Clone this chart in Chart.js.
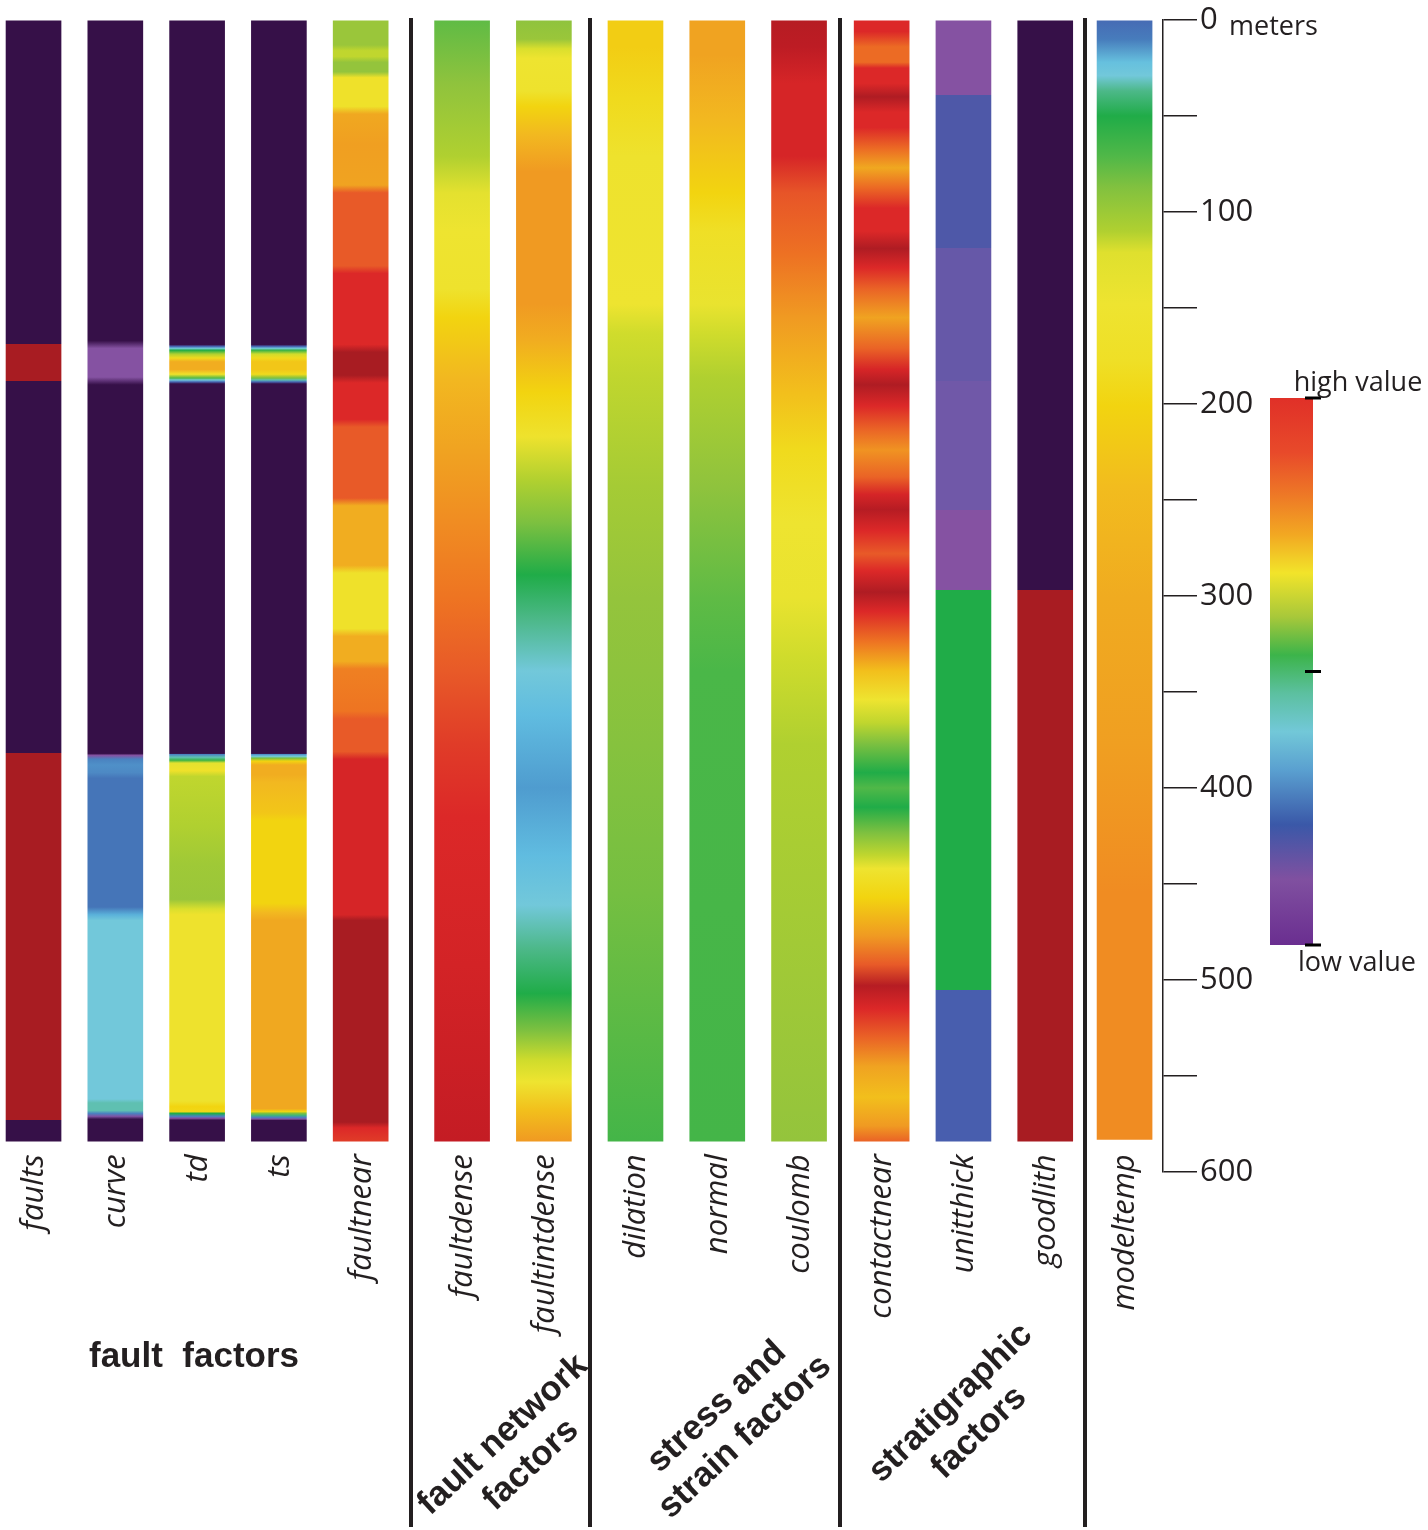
<!DOCTYPE html>
<html><head><meta charset="utf-8">
<script src="https://cdn.jsdelivr.net/npm/chart.js@4.4.1/dist/chart.umd.min.js"></script>
<style>html,body{margin:0;padding:0;background:#fff}canvas{display:block}</style>
</head><body>
<canvas id="c" width="1428" height="1530"></canvas>
<script>
// ---------------- DATA ----------------
const columnNames = ['faults','curve','td','ts','faultnear','faultdense','faultintdense','dilation','normal','coulomb','contactnear','unitthick','goodlith','modeltemp'];
const columnGroup = [0,0,0,0,0,1,1,2,2,2,3,3,3,4];
const groupTitles = [['fault  factors'],['fault network','factors'],['stress and','strain factors'],['stratigraphic','factors'],[]];
const depthTickLabels = [0,100,200,300,400,500,600];
const depthUnit = 'meters';
const legendLabels = ['high value','low value'];

// each column: [depth (m), normalised value 0 = low ... 1 = high]
const faults = [[0,0],[169,0],[169,1],[188,1],[188,0],[382,0],[382,1],[573,1],[573,0],[584,0]];
const curve = [[0,0],[167,0],[171,0.1],[186,0.1],[190,0],[382,0],[383,0.1],[385,0.3],[388,0.32],[392,0.31],[395,0.28],[462,0.28],[466,0.36],[469,0.4],[562,0.4],[564,0.42],[568,0.42],[569.5,0.3],[571,0.12],[572.5,0],[584,0]];
const td = [[0,0],[169,0],[170,0.25],[171,0.4],[172,0.48],[174,0.6],[176,0.68],[178,0.76],[182,0.76],[184.5,0.66],[186.5,0.52],[187.5,0.4],[188.5,0.25],[189.5,0],[382,0],[382.5,0.3],[384,0.42],[385.5,0.5],[387,0.64],[391,0.66],[394,0.61],[420,0.6],[440,0.585],[458,0.58],[463,0.63],[466,0.655],[563,0.655],[566,0.7],[568.5,0.69],[569.5,0.48],[571,0.3],[572,0.1],[573,0],[584,0]];
const ts = [[0,0],[169,0],[170,0.25],[171,0.4],[172,0.5],[174,0.62],[176,0.68],[178,0.72],[182,0.72],[184.5,0.68],[186.5,0.55],[187.5,0.42],[188.5,0.25],[189.5,0],[382,0],[382.5,0.32],[383.5,0.4],[384.5,0.55],[386,0.7],[388,0.76],[393,0.76],[397,0.74],[413,0.72],[417,0.7],[460,0.7],[465,0.74],[469,0.77],[567,0.77],[568.5,0.7],[569.5,0.55],[570.5,0.45],[571.5,0.3],[572.5,0.1],[573,0],[584,0]];
const faultnear = [[0,0.58],[13,0.58],[16,0.61],[19,0.61],[22,0.575],[27,0.575],[30,0.66],[45,0.66],[49,0.77],[65,0.79],[86,0.78],[90,0.87],[128,0.87],[132,0.92],[169,0.92],[173,1],[185,1],[189,0.92],[208,0.92],[212,0.87],[249,0.87],[253,0.76],[284,0.76],[288,0.66],[317,0.66],[321,0.76],[334,0.76],[338,0.83],[360,0.84],[364,0.87],[381,0.87],[385,0.93],[466,0.93],[469,1],[574,1],[577,0.92],[584,0.9]];
const faultdense = [[0,0.53],[33,0.57],[71,0.6],[90,0.64],[110,0.65],[140,0.655],[155,0.7],[186,0.74],[224,0.78],[262,0.82],[301,0.84],[339,0.87],[377,0.9],[415,0.92],[492,0.935],[584,0.96]];
const faultintdense = [[0,0.57],[10,0.58],[15,0.63],[20,0.65],[37,0.655],[45,0.7],[60,0.74],[79,0.8],[148,0.8],[167,0.76],[194,0.7],[217,0.655],[240,0.6],[262,0.55],[289,0.48],[312,0.44],[339,0.4],[362,0.37],[400,0.34],[435,0.37],[461,0.4],[484,0.44],[507,0.48],[526,0.55],[542,0.62],[553,0.65],[568,0.73],[584,0.8]];
const dilation = [[0,0.71],[14,0.71],[41,0.68],[71,0.655],[148,0.65],[163,0.62],[186,0.61],[243,0.59],[301,0.575],[377,0.56],[454,0.545],[584,0.51]];
const normal = [[0,0.78],[18,0.78],[52,0.74],[90,0.7],[110,0.665],[148,0.645],[163,0.62],[186,0.6],[243,0.57],[301,0.53],[339,0.515],[584,0.51]];
const coulomb = [[0,0.98],[14,0.97],[33,0.93],[71,0.93],[90,0.875],[121,0.845],[155,0.8],[194,0.73],[224,0.68],[262,0.65],[301,0.645],[331,0.62],[377,0.6],[584,0.575]];
const contactnear = [[0,0.92],[6,0.92],[14,0.85],[22,0.85],[25,0.92],[33,0.92],[40,0.99],[48,0.92],[56,0.92],[67,0.85],[77,0.77],[87,0.85],[98,0.92],[110,0.92],[119,0.99],[129,0.92],[140,0.86],[155,0.78],[171,0.86],[182,0.93],[190,0.99],[201,0.92],[213,0.86],[224,0.81],[238,0.86],[247,0.93],[255,0.98],[266,0.92],[278,0.87],[287,0.92],[298,0.99],[308,0.92],[324,0.84],[339,0.73],[354,0.65],[366,0.61],[377,0.55],[392,0.48],[400,0.52],[410,0.48],[423,0.55],[435,0.61],[442,0.65],[457,0.7],[477,0.8],[492,0.87],[503,0.98],[515,0.92],[530,0.86],[545,0.78],[561,0.73],[576,0.8],[584,0.86]];
const unitthick = [[0,0.1],[39,0.1],[39,0.22],[119,0.22],[119,0.18],[188,0.18],[188,0.16],[255,0.16],[255,0.1],[297,0.1],[297,0.48],[505,0.48],[505,0.235],[584,0.235]];
const goodlith = [[0,0],[297,0],[297,1],[584,1]];
const modeltemp = [[0,0.26],[10,0.29],[22,0.38],[29,0.4],[37,0.44],[50,0.48],[71,0.52],[87,0.555],[110,0.6],[121,0.635],[148,0.65],[178,0.665],[201,0.7],[243,0.735],[301,0.765],[377,0.79],[454,0.82],[583,0.82]];

const columnValues = [faults,curve,td,ts,faultnear,faultdense,faultintdense,dilation,normal,coulomb,contactnear,unitthick,goodlith,modeltemp];

// ---------------- STYLE ----------------
const colorMap = [[0,'#361048'],[0.04,'#5a2a78'],[0.10,'#8552a2'],[0.16,'#7058a8'],[0.18,'#6658a8'],[0.22,'#4e58a8'],[0.24,'#4660b0'],[0.28,'#4575b8'],[0.32,'#4f90c8'],[0.34,'#4f9ccf'],[0.37,'#60bce0'],[0.40,'#72c8da'],[0.44,'#4cb888'],[0.48,'#20ac48'],[0.52,'#50b848'],[0.55,'#7cc040'],[0.575,'#94c43c'],[0.60,'#b0d030'],[0.62,'#d0dc2c'],[0.65,'#eee430'],[0.70,'#f2d410'],[0.74,'#f2b820'],[0.77,'#f0a820'],[0.80,'#f09a22'],[0.82,'#f08c22'],[0.84,'#ee7422'],[0.87,'#e85a28'],[0.90,'#e03c28'],[0.92,'#dc2828'],[0.96,'#c41c24'],[1,'#a81c22']];
const legendStops = [[0,'#e03028'],[0.10,'#e84a2a'],[0.18,'#ee7a26'],[0.25,'#f2a822'],[0.32,'#f2e42a'],[0.40,'#a8c83a'],[0.47,'#3cb44a'],[0.54,'#5cc0a0'],[0.61,'#72c8d8'],[0.68,'#5aa0d0'],[0.78,'#3a58a8'],[0.88,'#8050a0'],[1,'#6a2e90']];
const ink = '#231f20';
const groupShift = [0,0.24,0.36,0.37,0.34];
const barWidth = 55;

function hex(c){return [parseInt(c.slice(1,3),16),parseInt(c.slice(3,5),16),parseInt(c.slice(5,7),16)];}
function valueColor(v){
  v = Math.max(0, Math.min(1, v));
  for (let k = 1; k < colorMap.length; k++) {
    if (v <= colorMap[k][0]) {
      const [a, ca] = colorMap[k-1], [b, cb] = colorMap[k];
      const t = b === a ? 0 : (v - a) / (b - a);
      const A = hex(ca), B = hex(cb);
      return 'rgb(' + A.map((x,j)=>Math.round(x + (B[j]-x)*t)).join(',') + ')';
    }
  }
  return colorMap[colorMap.length-1][1];
}

function columnGradient(ctx, i){
  const vals = columnValues[i];
  const chart = ctx.chart, ys = chart.scales.y;
  if (!ys || !chart.chartArea) return valueColor(vals[0][1]);
  const top = ys.getPixelForValue(vals[0][0]);
  const bot = ys.getPixelForValue(vals[vals.length-1][0]);
  const g = chart.ctx.createLinearGradient(0, top, 0, bot);
  vals.forEach(([d, v]) => {
    let f = (ys.getPixelForValue(d) - top) / (bot - top);
    g.addColorStop(Math.max(0, Math.min(1, f)), valueColor(v));
  });
  return g;
}

const xPos = columnNames.map((n, i) => i + groupShift[columnGroup[i]]);

const datasets = columnNames.map((name, i) => {
  const vals = columnValues[i];
  return {
    label: name,
    data: [{x: xPos[i], y: [vals[0][0], vals[vals.length-1][0]]}],
    backgroundColor: (ctx) => columnGradient(ctx, i),
    borderWidth: 0,
    barThickness: barWidth,
    grouped: false
  };
});

const decor = {
  id: 'decor',
  afterDraw(chart){
    const c = chart.ctx, xs = chart.scales.x, ys = chart.scales.y;
    c.save();
    // separators between groups
    c.strokeStyle = ink; c.lineWidth = 4;
    for (let i = 0; i < columnNames.length - 1; i++) {
      if (columnGroup[i] !== columnGroup[i+1]) {
        const xm = Math.round((xs.getPixelForValue(xPos[i]) + xs.getPixelForValue(xPos[i+1])) / 2);
        c.beginPath(); c.moveTo(xm, 18); c.lineTo(xm, 1527); c.stroke();
      }
    }
    // column labels
    c.fillStyle = ink;
    c.font = 'italic 31px "Open Sans"';
    c.textAlign = 'right'; c.textBaseline = 'middle';
    const labTop = ys.getPixelForValue(584) + 13;
    columnNames.forEach((n, i) => {
      c.save();
      c.translate(xs.getPixelForValue(xPos[i]) + 1, labTop);
      c.rotate(-Math.PI/2);
      c.fillText(n, 0, 0);
      c.restore();
    });
    // group titles
    c.font = 'bold 35px "Liberation Sans"';
    c.textAlign = 'center'; c.textBaseline = 'middle';
    const titlePos = [[194,1357,0],[517,1450,-43],[731,1422,-43],[965,1418,-44]];
    titlePos.forEach(([x, y, ang], g) => {
      const lines = groupTitles[g];
      c.save(); c.translate(x, y); c.rotate(ang*Math.PI/180);
      const lh = 41;
      lines.forEach((t, k) => c.fillText(t, 0, (k - (lines.length-1)/2) * lh));
      c.restore();
    });
    // unit
    c.font = '27px "Open Sans"'; c.textAlign = 'left'; c.textBaseline = 'alphabetic';
    c.fillText(depthUnit, 1229, ys.getPixelForValue(0) + 15);
    // colour bar legend
    const bx = 1270, bw = 43, by0 = 398, by1 = 945;
    const lg = c.createLinearGradient(0, by0, 0, by1);
    legendStops.forEach(([f, col]) => lg.addColorStop(f, col));
    c.fillStyle = lg; c.fillRect(bx, by0, bw, by1 - by0);
    c.strokeStyle = '#000'; c.lineWidth = 3;
    [by0, (by0+by1)/2, by1].forEach(y => { c.beginPath(); c.moveTo(bx+bw-8, y); c.lineTo(bx+bw+8, y); c.stroke(); });
    c.fillStyle = ink; c.font = '27px "Open Sans"'; c.textAlign = 'center';
    c.fillText(legendLabels[0], 1358, 391);
    c.fillText(legendLabels[1], 1357, 971);
    c.restore();
  }
};

new Chart(document.getElementById('c'), {
  type: 'bar',
  data: {datasets},
  options: {
    responsive: false, animation: false,
    layout: {padding: {top: 20, bottom: 358, left: 0, right: 0}},
    plugins: {legend: {display: false}, tooltip: {enabled: false}},
    scales: {
      x: {type: 'linear', display: false, offset: false, grid: {offset: false}, min: -0.41, max: 13.81},
      y: {
        type: 'linear', position: 'right', reverse: true, min: 0, max: 600,
        ticks: {stepSize: 50, autoSkip: false, maxRotation: 0, padding: 3, color: ink,
          font: {family: 'Open Sans', size: 31},
          callback: v => depthTickLabels.includes(v) ? String(v) : ''},
        grid: {drawOnChartArea: false, drawTicks: true, tickLength: 34, color: ink, lineWidth: 1.5},
        border: {display: true, color: ink, width: 1.5},
        afterFit: s => { s.width = 265; s.paddingTop = 0; s.paddingBottom = 0; }
      }
    }
  },
  plugins: [decor]
});
</script>
</body></html>
